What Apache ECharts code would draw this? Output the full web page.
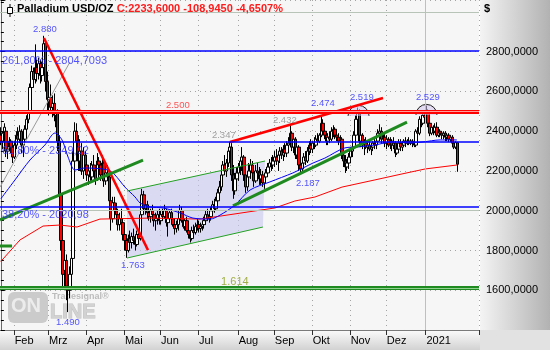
<!DOCTYPE html>
<html><head><meta charset="utf-8">
<script src="https://cdn.jsdelivr.net/npm/echarts@6/dist/echarts.min.js"></script>
<style>
html,body{margin:0;padding:0;background:#fff;}
#wrap{position:relative;width:550px;height:350px;overflow:hidden;}
#plotbg{position:absolute;left:0;top:0;width:479px;height:330px;background:#f6f6f6;}
#rbg{position:absolute;left:480px;top:0;width:70px;height:330px;background:linear-gradient(to right,#f4f4f4,#b2b2b2);}
#bbg{position:absolute;left:0;top:330px;width:480px;height:20px;background:linear-gradient(#fbfbfb,#d2d2d2);}
#cbg{position:absolute;left:480px;top:330px;width:70px;height:20px;background:#e2e2e2;}
#chart{position:absolute;left:0;top:0;width:550px;height:350px;}
</style></head>
<body>
<div id="wrap"><div id="plotbg"></div><div id="rbg"></div><div id="bbg"></div><div id="cbg"></div><div id="chart"></div></div>
<script>
// ---- daily bars [open, close, low, high] ----
const jan20 = [[2380,2350,2330,2420],[2350,2390,2310,2400],[2390,2420,2360,2440],[2400,2300,2270,2410],[2300,2310,2260,2340],[2320,2350,2300,2370],[2350,2320,2290,2360],[2320,2270,2240,2330]];
const feb20 = [[2270,2330,2260,2350],[2330,2380,2310,2400],[2380,2360,2330,2420],[2360,2400,2340,2430],[2400,2330,2290,2410],[2330,2360,2270,2380],[2360,2410,2340,2430],[2410,2460,2400,2480],[2460,2500,2440,2520],[2500,2620,2490,2640],[2620,2700,2600,2730],[2700,2660,2620,2720],[2660,2720,2640,2837],[2720,2690,2650,2760],[2690,2740,2660,2770],[2740,2680,2640,2760],[2680,2720,2650,2750],[2720,2840,2700,2880],[2840,2650,2600,2850],[2650,2560,2500,2700]];
const mar20 = [[2560,2570,2480,2620],[2570,2520,2490,2635],[2520,2540,2470,2580],[2540,2480,2450,2590],[2480,2490,2420,2530],[2490,2350,2300,2510],[2350,2080,2000,2380],[2080,1850,1800,2180],[1850,1680,1620,1900],[1700,1750,1600,1820],[1750,1620,1550,1780],[1620,1600,1490,1700],[1600,1680,1560,1720],[1680,1760,1620,1800],[1760,2250,1740,2300],[2250,2400,2200,2445],[2400,2350,2300,2440],[2350,2250,2200,2380],[2250,2300,2200,2360],[2300,2200,2180,2340],[2200,2280,2160,2320],[2280,2230,2180,2300]];
const apr20 = [[2230,2180,2150,2260],[2180,2200,2130,2230],[2200,2170,2150,2240],[2170,2230,2140,2250],[2230,2200,2180,2280],[2200,2160,2130,2220],[2160,2250,2150,2290],[2250,2230,2200,2270],[2230,2180,2150,2250],[2180,2240,2160,2280],[2240,2150,2120,2250],[2150,2190,2130,2220],[2190,2170,2150,2230],[2170,2050,2020,2200],[2050,1960,1900,2080],[1960,2040,1940,2070],[2040,2000,1970,2070],[2000,1980,1940,2040],[1980,1930,1900,2010],[1930,1960,1900,1990],[1960,1940,1920,2010],[1940,1880,1850,1960]];
const may20 = [[1880,1850,1800,1920],[1850,1800,1763,1870],[1800,1860,1790,1880],[1860,1840,1820,1900],[1840,1870,1810,1890],[1870,1850,1830,1910],[1850,1830,1800,1880],[1830,1880,1820,1900],[1880,1860,1840,1900],[1860,1980,1850,2000],[1980,2080,1960,2110],[2080,2010,1990,2100],[2010,2030,1980,2060],[2030,1990,1960,2050],[1990,1970,1950,2020],[1970,2000,1940,2010],[2000,1980,1960,2030],[1980,1950,1920,2000],[1950,1960,1900,1990],[1960,1980,1930,2000],[1980,1950,1930,2010]];
const jun20 = [[1950,1980,1930,2000],[1980,1970,1950,2010],[1970,2000,1960,2030],[2000,1940,1920,2010],[1940,1960,1870,1980],[1960,1990,1940,2000],[1990,1960,1950,2010],[1960,1930,1920,1990],[1930,1910,1880,1960],[1910,1930,1890,1950],[1930,1960,1900,1980],[1960,2000,1950,2030],[2000,1950,1940,2020],[1950,1920,1910,1980],[1920,1950,1900,1960],[1950,1900,1890,1970],[1900,1880,1860,1940],[1880,1860,1840,1900],[1860,1900,1850,1920],[1900,1890,1870,1930],[1890,1920,1880,1940],[1920,1930,1900,1960]];
const jul20 = [[1930,1910,1890,1950],[1910,1920,1890,1940],[1920,1930,1900,1950],[1930,1950,1910,1970],[1950,1980,1930,2000],[1980,1960,1950,2010],[1960,1970,1940,1990],[1970,2000,1950,2020],[2000,2030,1980,2050],[2030,2010,1990,2060],[2010,2050,2000,2070],[2050,2090,2030,2110],[2090,2120,2070,2150],[2120,2180,2100,2200],[2180,2230,2160,2250],[2230,2200,2180,2280],[2200,2240,2170,2260],[2240,2300,2220,2320],[2300,2320,2250,2347],[2320,2180,2150,2340],[2180,2100,2060,2230],[2100,2160,2080,2190],[2160,2190,2120,2220]];
const aug20 = [[2190,2220,2150,2240],[2220,2250,2180,2270],[2250,2270,2200,2320],[2270,2180,2150,2280],[2180,2120,2090,2230],[2120,2170,2100,2190],[2170,2200,2150,2240],[2200,2230,2160,2260],[2230,2190,2160,2250],[2190,2150,2120,2220],[2150,2200,2140,2230],[2200,2190,2170,2240],[2190,2160,2130,2220],[2160,2180,2130,2210],[2180,2140,2120,2200],[2140,2170,2110,2190],[2170,2190,2140,2210],[2190,2220,2170,2240],[2220,2240,2190,2260],[2240,2230,2200,2270],[2230,2250,2210,2280]];
const sep20 = [[2250,2270,2220,2300],[2270,2250,2230,2310],[2250,2280,2200,2290],[2280,2300,2240,2320],[2300,2280,2260,2320],[2280,2310,2250,2330],[2310,2290,2270,2340],[2290,2330,2270,2350],[2330,2340,2300,2370],[2340,2390,2320,2432],[2390,2320,2300,2400],[2320,2360,2290,2380],[2360,2280,2260,2370],[2280,2320,2260,2330],[2320,2230,2200,2330],[2230,2210,2187,2260],[2210,2240,2190,2250],[2240,2270,2210,2290],[2270,2250,2230,2300],[2250,2300,2240,2320],[2300,2330,2280,2350],[2330,2310,2290,2360]];
const oct20 = [[2310,2340,2290,2350],[2340,2330,2310,2370],[2330,2360,2320,2380],[2360,2350,2330,2390],[2350,2380,2340,2390],[2380,2440,2370,2474],[2440,2400,2380,2460],[2400,2380,2360,2420],[2380,2350,2330,2400],[2350,2370,2330,2390],[2370,2360,2340,2400],[2360,2400,2350,2420],[2400,2410,2370,2430],[2410,2380,2360,2420],[2380,2370,2350,2400],[2370,2350,2330,2390],[2350,2360,2320,2380],[2360,2280,2260,2370],[2280,2250,2220,2300],[2250,2220,2190,2280],[2220,2240,2200,2260],[2240,2270,2210,2290]];
const nov20 = [[2270,2300,2240,2320],[2300,2320,2270,2340],[2320,2380,2300,2400],[2380,2460,2370,2480],[2460,2490,2440,2519],[2490,2350,2320,2510],[2350,2380,2320,2400],[2380,2330,2310,2390],[2330,2340,2280,2360],[2340,2320,2310,2370],[2320,2330,2290,2350],[2330,2310,2300,2360],[2310,2320,2280,2340],[2320,2340,2300,2350],[2340,2330,2310,2360],[2330,2350,2310,2370],[2350,2390,2340,2410],[2390,2400,2370,2435],[2400,2360,2340,2420],[2360,2370,2340,2390],[2370,2340,2320,2390]];
const dec20 = [[2340,2360,2310,2380],[2360,2330,2320,2370],[2330,2350,2310,2370],[2350,2330,2300,2360],[2330,2340,2310,2370],[2340,2290,2270,2350],[2290,2310,2280,2330],[2310,2340,2300,2360],[2340,2320,2300,2360],[2320,2330,2300,2350],[2330,2350,2320,2360],[2350,2340,2320,2370],[2340,2350,2330,2360],[2350,2340,2330,2370],[2340,2350,2330,2360],[2350,2340,2320,2360],[2340,2330,2320,2360],[2330,2400,2320,2410],[2400,2390,2370,2420],[2390,2460,2380,2475],[2460,2440,2420,2480],[2440,2480,2430,2500],[2480,2470,2440,2500]];
const jan21 = [[2470,2500,2450,2529],[2500,2440,2420,2510],[2440,2390,2375,2460],[2390,2420,2380,2430],[2420,2400,2380,2430],[2400,2420,2390,2440],[2420,2380,2370,2445],[2380,2400,2370,2420],[2400,2390,2370,2410],[2390,2380,2360,2400],[2380,2390,2360,2400],[2390,2370,2350,2400],[2370,2380,2350,2390],[2380,2360,2345,2390],[2360,2370,2345,2380],[2370,2340,2320,2380],[2340,2320,2310,2360],[2320,2342.5,2310,2350],[2342.5,2233.6,2196,2345]];

// ---- indicators, sampled [barIndex, value] ----
const maBlue = [[0,2060],[8.2,2155],[16.9,2255],[25.6,2331],[31.4,2391],[35.5,2356],[39,2270],[43,2205],[48.8,2215],[62.2,2205],[66.2,2180],[72,2119],[77.9,2069],[80.8,2039],[86.6,2019],[94.1,2014],[104,1989],[111.5,1963],[121.4,1958],[127.2,1978],[135.9,2029],[144.6,2104],[156.2,2145],[169.5,2190],[175.4,2215],[181.2,2240],[188.1,2265],[199.7,2316],[207.3,2321],[217.1,2331],[227,2346],[237.5,2341],[245,2346],[254.9,2356],[264.7,2356]];
const maRed = [[0,1745],[11.1,1853],[24.5,1923],[34.3,1928],[44.2,1918],[57.5,1958],[86.6,1963],[115.6,1958],[135.9,1984],[159.1,2014],[170.7,2049],[182.3,2069],[198,2119],[217.1,2155],[232.8,2185],[246.2,2210],[264.7,2230]];
const grayLine = [[-0.5,2119],[40.1,2748]];
const trendRed1 = [[25.0,2869],[85.4,1802]];
const trendRed2 = [[133,2346],[221.8,2567]];
const trendGreen1 = [[-0.5,1954],[82.5,2255]];
const trendGreen2 = [[134.7,2024],[235.7,2446]];
const greenStub = [[-0.5,1823],[6.5,1823]];
const channelUpper = [[73.2,2099],[153.3,2250]];
const channelLower = [[73.2,1762],[152.1,1918]];
const domes = [[207.6,2477],[247.0,2482]];
const fibLevels = [2804.7093, 2349.02, 2020.98];
const resistance = 2500;
const support = 1612;
const monthNames = ['2021','Feb','Mrz','Apr','Mai','Jun','Jul','Aug','Sep','Okt','Nov','Dez'];
const yTickLabels = [1600,1800,2000,2200,2400,2600,2800];
const notes = [
  {i:25.6,v:2914,t:'2.880',c:'#2a2aff',s:9.5},
  {i:38.9,v:1440,t:'1.490',c:'#2a2aff',s:9.5},
  {i:76.6,v:1727,t:'1.763',c:'#2a2aff',s:9.5},
  {i:129.4,v:2381,t:'2.347',c:'#8a8a8a',s:9.5},
  {i:164.8,v:2456,t:'2.432',c:'#8a8a8a',s:9.5},
  {i:186.9,v:2542,t:'2.474',c:'#2a2aff',s:9.5},
  {i:209.5,v:2572,t:'2.519',c:'#2a2aff',s:9.5},
  {i:247.8,v:2572,t:'2.529',c:'#2a2aff',s:9.5},
  {i:178.2,v:2139,t:'2.187',c:'#2a2aff',s:9.5},
  {i:102.7,v:2532,t:'2.500',c:'#ff2a2a',s:9.5},
  {i:135.8,v:1641,t:'1.614',c:'#8c9c1c',s:11},
  {i:0.66,v:2753,t:'261,80% - 2804,7093',c:'#2a2aff',s:11,a:'left'},
  {i:0.66,v:2302,t:'61,80% - 2349,02',c:'#2a2aff',s:11,a:'left'},
  {i:0.66,v:1978,t:'38,20% - 2020,98',c:'#2a2aff',s:11,a:'left'}
];

const FONT = 'Liberation Sans';
const NCAT = 278;
const dates = [];
{ const d = new Date(Date.UTC(2020,0,22));
  while (dates.length < NCAT) { const w = d.getUTCDay(); if (w !== 0 && w !== 6) dates.push(d.toISOString().slice(0,10)); d.setUTCDate(d.getUTCDate()+1); } }
const ohlc = [].concat(jan20,feb20,mar20,apr20,may20,jun20,jul20,aug20,sep20,oct20,nov20,dec20,jan21);
const monthStart = {};
for (let i = 1; i < ohlc.length; i++) { if (dates[i].slice(5,7) !== dates[i-1].slice(5,7)) monthStart[i] = monthNames[parseInt(dates[i].slice(5,7),10)-1]; }
const isMonth = (i) => monthStart[i] !== undefined;

const chart = echarts.init(document.getElementById('chart'));
const lineS = (data, color, width, z) => ({type:'line', xAxisIndex:1, yAxisIndex:0, data, showSymbol:false, symbol:'none', silent:true, z, lineStyle:{color, width}, animation:false});
const hl = (v, color, width) => ({yAxis:v, lineStyle:{color, width, type:'solid'}});

chart.setOption({
  animation:false,
  backgroundColor:'transparent',
  textStyle:{fontFamily:FONT},
  title:{text:'{a|Palladium USD/OZ }{b|C:2233,6000 -108,9450 -4,6507%}', left:17, top:3, padding:0,
    textStyle:{rich:{a:{color:'#000',fontSize:11,fontFamily:FONT},b:{color:'#ff1a1a',fontSize:11,fontFamily:FONT}}}},
  grid:{left:0, top:0, width:479, height:330, outerBoundsMode:'none'},
  xAxis:[
    {type:'category', data:dates, boundaryGap:true,
     axisLine:{show:true, lineStyle:{color:'#7a7a7a'}},
     axisTick:{show:true, interval:isMonth, length:5, lineStyle:{color:'#303030'}},
     axisLabel:{interval:isMonth, formatter:(v,i)=>monthStart[i]||'', align:'left', margin:5, color:'#000', fontSize:11, fontFamily:FONT, hideOverlap:false},
     splitLine:{show:true, interval:isMonth, lineStyle:{color:'#a4a4a4', type:[1,4]}}},
    {type:'value', min:-0.5, max:NCAT-0.5, show:false}
  ],
  yAxis:{type:'value', position:'right', min:1400, max:3060, interval:200,
    axisLine:{show:true, lineStyle:{color:'#6a6a6a'}},
    axisTick:{show:true, length:4, lineStyle:{color:'#000'}},
    minorTick:{show:true, splitNumber:4, length:3, lineStyle:{color:'#000'}},
    axisLabel:{color:'#000', fontSize:11, fontFamily:FONT, margin:7, showMinLabel:true, showMaxLabel:true,
      formatter:(v)=> yTickLabels.indexOf(v) >= 0 ? v + ',0000' : ''},
    splitLine:{show:true, lineStyle:{color:'#a4a4a4', type:[1,4]}}},
  graphic:[
    {type:'line', shape:{x1:10,y1:4,x2:10,y2:17}, style:{stroke:'#000',lineWidth:1}, z:10},
    {type:'rect', shape:{x:7.5,y:7.5,width:5,height:6}, style:{fill:'#fff',stroke:'#000',lineWidth:1}, z:11},
    {type:'text', left:484, top:3, style:{text:'$', font:'bold 11px "Liberation Sans"', fill:'#000'}, z:10},
    {type:'rect', shape:{x:8,y:292,width:40,height:31,r:6}, style:{fill:'#cbcbcb'}, z:1},
    {type:'text', x:11, y:296, style:{text:'ON', font:'bold 20px "Liberation Sans"', fill:'#ececec'}, z:1},
    {type:'text', x:50, y:302, style:{text:'LINE', font:'bold 20px "Liberation Sans"', fill:'#d2d2d2', stroke:'#c0c0c0', lineWidth:1}, z:1},
    {type:'text', x:52, y:292, style:{text:'Tradesignal®', font:'bold 9px "Liberation Sans"', fill:'#bcbcbc'}, z:1}
  ],
  series:[
    {type:'custom', xAxisIndex:1, yAxisIndex:0, silent:true, z:1, data:[channelUpper[0]],
     renderItem:(p, api)=>({type:'polygon', shape:{points:[channelUpper[0],channelUpper[1],channelLower[1],channelLower[0]].map(q=>api.coord(q))}, style:{fill:'rgba(200,200,240,0.6)'}}),
     markLine:{silent:true, symbol:['none','none'], label:{show:false}, data:[
       hl(2000,'#b8c4b8',1), hl(3000,'#b8c4b8',1), {xAxis:246.5, lineStyle:{color:'#b8c4b8',width:1,type:'solid'}}]}},
    {type:'candlestick', xAxisIndex:0, yAxisIndex:0, data:ohlc, barWidth:3, z:2, silent:true,
     itemStyle:{color:'#ffffff', color0:'#ff0000', borderColor:'#000000', borderColor0:'#000000', borderWidth:1}},
    {type:'custom', xAxisIndex:1, yAxisIndex:0, silent:true, z:3, data:domes,
     renderItem:(p, api)=>{const c = api.coord([api.value(0), api.value(1)]);
       return {type:'group', children:[
         {type:'sector', shape:{cx:c[0], cy:c[1], r0:0, r:10.5, startAngle:Math.PI, endAngle:2*Math.PI, clockwise:true}, style:{fill:'rgba(212,196,236,0.55)'}},
         {type:'arc', shape:{cx:c[0], cy:c[1], r:10.5, startAngle:Math.PI, endAngle:2*Math.PI, clockwise:true}, style:{fill:null, stroke:'#1a1a1a', lineWidth:1}}]};}},
    lineS(grayLine,'#9a9a9a',1,3),
    lineS(maRed,'#ff0000',1,3),
    Object.assign(lineS(maBlue,'#0000ff',1,3), {smooth:0.3}),
    lineS(trendRed1,'#ff0000',2.5,4),
    lineS(trendRed2,'#ff0000',2.5,4),
    lineS(trendGreen1,'#1f8a1f',3,4),
    lineS(trendGreen2,'#1f8a1f',3,4),
    lineS(greenStub,'#1f8a1f',3,4),
    lineS(channelUpper,'#22a022',1,4),
    lineS(channelLower,'#22a022',1,4),
    {type:'scatter', xAxisIndex:1, yAxisIndex:0, silent:true, z:6, symbolSize:1,
     itemStyle:{color:'rgba(0,0,0,0)'},
     data:notes.map(n=>({value:[n.i,n.v], label:{show:true, position:'inside', formatter:n.t, color:n.c, fontSize:n.s, fontFamily:FONT, align:n.a||'center', verticalAlign:'middle'}})),
     markLine:{silent:true, symbol:['none','none'], label:{show:false}, data:[
       hl(fibLevels[0],'#0000ff',1.5), hl(fibLevels[1],'#0000ff',1.5), hl(fibLevels[2],'#0000ff',1.5),
       hl(resistance,'#ff0000',4), hl(resistance,'#ff9c9c',1),
       hl(support,'#1f8a1f',4), hl(support,'#8fcf8f',1)]}}
  ]
});
</script>
</body></html>
